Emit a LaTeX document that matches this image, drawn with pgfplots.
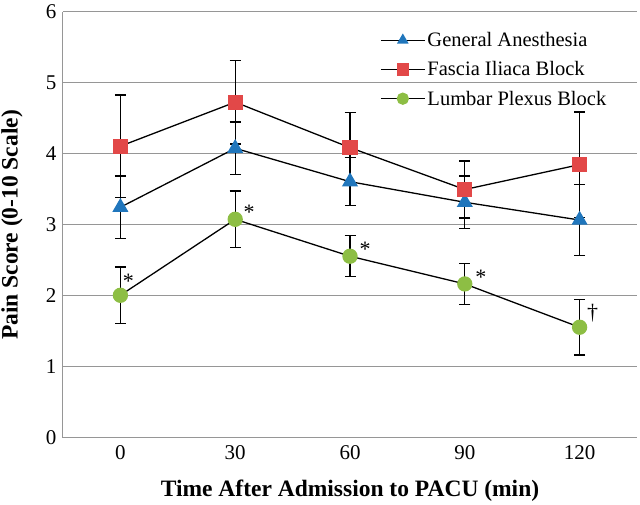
\documentclass[border=0pt]{standalone}
\usepackage{pgfplots}
\pgfplotsset{compat=1.18}
\usepackage{fontspec}
\setmainfont{Liberation Serif}
\definecolor{gaBlue}{RGB}{32,118,188}
\definecolor{fibRed}{RGB}{226,72,72}
\definecolor{lpbGreen}{RGB}{141,190,68}
\definecolor{gridGray}{RGB}{150,150,150}
\begin{document}
\begin{tikzpicture}
\useasboundingbox (-63pt,-67pt) rectangle (577pt,438pt);
\begin{axis}[
  at={(0pt,0pt)}, anchor=south west,
  scale only axis,
  width=574pt, height=426pt,
  xmin=-15, xmax=135,
  ymin=0, ymax=6,
  xtick={0,30,60,90,120},
  ytick={0,1,2,3,4,5,6},
  axis x line*=bottom,
  axis y line*=left,
  axis line style={gridGray, line width=1pt},
  every axis plot/.append style={line width=1.3pt},
  major tick length=0pt,
  ymajorgrids,
  grid style={gridGray, line width=1pt},
  /pgf/number format/assume math mode=true,
  tick label style={font=\fontsize{21}{25}\selectfont},
  xticklabel style={yshift=-4pt},
  yticklabel style={xshift=-3pt},
  xlabel={\textbf{Time After Admission to PACU (min)}},
  ylabel={\textbf{Pain Score (0-10 Scale)}},
  every axis x label/.style={at={(axis description cs:0.5,0)}, anchor=base, yshift=-59pt, font=\fontsize{23.5}{27}\selectfont},
  every axis y label/.style={at={(axis description cs:0,0.5)}, anchor=center, rotate=90, yshift=51pt, font=\fontsize{23.5}{27}\selectfont},
  legend style={draw=none, fill=none, at={(axis description cs:0.547,0.962)}, anchor=north west,
    font=\fontsize{20.5}{24}\selectfont, row sep=9.5pt, cells={anchor=west}},
  legend cell align=left,
  legend image code/.code={\draw[mark repeat=2, mark phase=2, mark size=5.5pt] plot coordinates {(0pt,0pt) (22pt,0pt) (44pt,0pt)};},
  error bars/y dir=both,
  error bars/y explicit,
  error bars/error mark options={rotate=90, mark size=5.5pt, black, line width=1.3pt},
  error bars/error bar style={black, line width=1.3pt},
]
\addplot[black, mark=triangle*, mark size=8pt, mark options={gaBlue, draw=gaBlue}]
  coordinates {(0,3.25) +- (0,0.44) (30,4.08) +- (0,0.37) (60,3.61) +- (0,0.34) (90,3.32) +- (0,0.37) (120,3.07) +- (0,0.50)};
\addlegendentry{General Anesthesia}
\addplot[black, mark=square*, mark size=7pt, mark options={fibRed, draw=fibRed}]
  coordinates {(0,4.11) +- (0,0.72) (30,4.73) +- (0,0.59) (60,4.09) +- (0,0.49) (90,3.50) +- (0,0.40) (120,3.85) +- (0,0.74)};
\addlegendentry{Fascia Iliaca Block}
\addplot[black, mark=*, mark size=7pt, mark options={lpbGreen, draw=lpbGreen}]
  coordinates {(0,2.01) +- (0,0.40) (30,3.08) +- (0,0.40) (60,2.56) +- (0,0.29) (90,2.17) +- (0,0.29) (120,1.56) +- (0,0.39)};
\addlegendentry{Lumbar Plexus Block}
\begin{scope}[every node/.style={font=\fontsize{22}{26}\selectfont, anchor=base}]
\node[xshift=8pt, yshift=7pt] at (axis cs:0,2.01) {*};
\node[xshift=14pt, yshift=0pt] at (axis cs:30,3.08) {*};
\node[xshift=15pt, yshift=0pt] at (axis cs:60,2.56) {*};
\node[xshift=16pt, yshift=-1pt] at (axis cs:90,2.17) {*};
\node[xshift=13pt, yshift=8pt] at (axis cs:120,1.56) {\dag};
\end{scope}
\end{axis}
\end{tikzpicture}
\end{document}
